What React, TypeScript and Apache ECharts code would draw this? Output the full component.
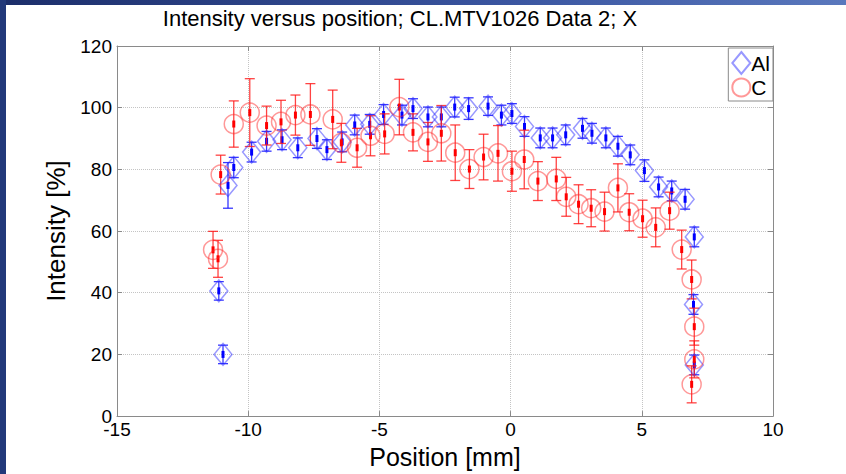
import React, { useEffect, useRef } from "react";
import * as echarts from "echarts";

const chartTitle = "Intensity versus position; CL.MTV1026 Data 2; X";
const xName = "Position [mm]";
const yName = "Intensity [%]";
const xTicks = [-15, -10, -5, 0, 5, 10];
const yTicks = [0, 20, 40, 60, 80, 100, 120];

const alX = [-11.12, -10.96, -10.77, -10.55, -9.87, -9.3, -8.71, -8.11, -7.38, -7.0, -6.42, -5.94, -5.37, -4.84, -4.14, -3.72, -3.15, -2.64, -2.13, -1.6, -0.86, -0.35, 0.05, 0.53, 1.13, 1.6, 2.1, 2.74, 3.1, 3.63, 4.09, 4.56, 5.1, 5.64, 6.14, 6.65, 7.0, 6.97, 7.0];
const alY = [40.6, 20.0, 74.8, 80.6, 85.6, 89.1, 89.6, 87.0, 90.0, 86.4, 88.9, 94.4, 94.6, 97.8, 97.6, 99.7, 97.0, 97.0, 100.2, 99.7, 100.5, 97.6, 98.1, 93.9, 90.2, 90.2, 91.2, 93.3, 91.7, 90.2, 87.5, 84.7, 79.6, 74.3, 73.0, 70.3, 58.1, 36.2, 16.6];
const alErr = [3, 3, 7.4, 3.3, 3.2, 3.2, 3.2, 3.2, 3.2, 3.2, 3.2, 3.2, 3.2, 3.2, 3.2, 3.2, 3.2, 3.2, 3.2, 3.5, 3.0, 3.2, 3.2, 3.2, 3.2, 3.2, 3.2, 3.2, 3.2, 3.2, 3.2, 3.2, 3.5, 3.2, 3.2, 3.2, 3.2, 3.2, 3.2];

const cX = [-11.34, -11.15, -11.05, -10.55, -9.94, -9.3, -8.75, -8.2, -7.63, -6.78, -6.45, -5.85, -5.34, -4.8, -4.24, -3.72, -3.15, -2.64, -2.11, -1.57, -1.03, -0.48, 0.05, 0.52, 1.04, 1.74, 2.12, 2.59, 3.07, 3.58, 4.09, 4.52, 5.03, 5.53, 6.06, 6.52, 6.9, 7.0, 7.0, 6.9];
const cY = [53.9, 51.0, 78.3, 94.7, 98.4, 94.2, 95.4, 97.6, 97.8, 96.2, 88.6, 87.0, 90.9, 91.5, 100.2, 92.0, 88.9, 91.7, 85.4, 80.1, 84.0, 85.2, 79.4, 83.2, 76.2, 76.9, 71.1, 68.7, 67.4, 66.3, 74.0, 66.1, 64.0, 61.2, 66.6, 54.0, 44.3, 29.0, 18.4, 10.3];
const cErr = [6, 6, 6.3, 7.5, 11, 6.3, 7, 6.5, 10, 9.5, 6.3, 6.3, 6.5, 6.5, 9, 6, 6.3, 9, 9, 6.3, 7.4, 9, 6.5, 9.5, 6.3, 7, 6.3, 6.3, 6, 6.3, 7.8, 6, 6, 6.3, 6, 6.3, 6.3, 6, 6, 6];

const FONT = "'Liberation Sans', Arial, sans-serif";

function errSeries(name: string, xs: number[], ys: number[], es: number[], color: string, solid: string) {
  return {
    type: "custom",
    name,
    silent: true,
    z: 2,
    data: xs.map((x, i) => [x, ys[i], es[i]]),
    encode: { x: 0, y: 1 },
    renderItem: (params: any, api: any) => {
      const x = api.value(0);
      const y = api.value(1);
      const e = api.value(2);
      const top = api.coord([x, y + e]);
      const bot = api.coord([x, y - e]);
      const c = api.coord([x, y]);
      const hw = 5;
      const st = { stroke: color, lineWidth: 1.3 };
      return {
        type: "group",
        children: [
          { type: "line", shape: { x1: top[0], y1: top[1], x2: bot[0], y2: bot[1] }, style: st },
          { type: "line", shape: { x1: top[0] - hw, y1: top[1], x2: top[0] + hw, y2: top[1] }, style: st },
          { type: "line", shape: { x1: bot[0] - hw, y1: bot[1], x2: bot[0] + hw, y2: bot[1] }, style: st },
          { type: "rect", shape: { x: c[0] - 1.5, y: c[1] - 3.5, width: 3, height: 7 }, style: { fill: solid } },
        ],
      };
    },
  };
}

function axisCommon() {
  return {
    axisLine: { show: true, onZero: false, lineStyle: { color: "#8a8a8a", width: 1 } },
    axisTick: { show: true, inside: true, length: 5, lineStyle: { color: "#8a8a8a" } },
  };
}

export default function App() {
  const ref = useRef<HTMLDivElement>(null);
  useEffect(() => {
    if (!ref.current) return;
    const chart = echarts.init(ref.current, undefined, { renderer: "svg" });
    const gridLine = { show: true, lineStyle: { type: "dotted", color: "#c4c4c4", width: 1 } };
    chart.setOption({
      animation: false,
      backgroundColor: "#ffffff",
      grid: { left: 117, right: 73, top: 46, bottom: 50 },
      graphic: [
        {
          type: "text",
          x: 400,
          y: 7,
          style: { text: chartTitle, font: `22px ${FONT}`, fill: "#000", textAlign: "center", textVerticalAlign: "top" },
        },
      ],
      legend: {
        orient: "vertical",
        right: 73,
        top: 48,
        data: ["Al", "C"],
        itemWidth: 18,
        itemHeight: 22,
        itemGap: 2,
        padding: [3, 3, 3, 3],
        borderColor: "#8a8a8a",
        borderWidth: 1,
        backgroundColor: "#fff",
        textStyle: { fontSize: 21, fontFamily: FONT, color: "#000", padding: [0, 0, 0, -4] },
        selectedMode: false,
      },
      xAxis: [
        {
          type: "value",
          position: "bottom",
          min: xTicks[0],
          max: xTicks[xTicks.length - 1],
          interval: 5,
          ...axisCommon(),
          axisLabel: { fontSize: 19, fontFamily: FONT, color: "#000", margin: 4 },
          splitLine: gridLine,
          name: xName,
          nameLocation: "middle",
          nameGap: 23,
          nameTextStyle: { fontSize: 25, fontFamily: FONT, color: "#000" },
        },
        {
          type: "value",
          position: "top",
          min: xTicks[0],
          max: xTicks[xTicks.length - 1],
          interval: 5,
          ...axisCommon(),
          axisLabel: { show: false },
          splitLine: { show: false },
        },
      ],
      yAxis: [
        {
          type: "value",
          position: "left",
          min: yTicks[0],
          max: yTicks[yTicks.length - 1],
          interval: 20,
          ...axisCommon(),
          axisLabel: { fontSize: 19, fontFamily: FONT, color: "#000", margin: 5 },
          splitLine: gridLine,
          name: yName,
          nameLocation: "middle",
          nameGap: 40,
          nameRotate: 90,
          nameTextStyle: { fontSize: 26, fontFamily: FONT, color: "#000" },
        },
        {
          type: "value",
          position: "right",
          min: yTicks[0],
          max: yTicks[yTicks.length - 1],
          interval: 20,
          ...axisCommon(),
          axisLabel: { show: false },
          splitLine: { show: false },
        },
      ],
      series: [
        errSeries("Al error", alX, alY, alErr, "rgba(20,20,255,0.85)", "#0000ff"),
        {
          type: "scatter",
          name: "Al",
          z: 3,
          symbol: "diamond",
          symbolSize: [18, 22],
          data: alX.map((x, i) => [x, alY[i]]),
          itemStyle: { color: "rgba(0,0,0,0)", borderColor: "rgba(40,40,255,0.6)", borderWidth: 1.5 },
        },
        errSeries("C error", cX, cY, cErr, "rgba(255,20,20,0.8)", "#ff0000"),
        {
          type: "scatter",
          name: "C",
          z: 3,
          symbol: "circle",
          symbolSize: 19,
          data: cX.map((x, i) => [x, cY[i]]),
          itemStyle: { color: "rgba(0,0,0,0)", borderColor: "rgba(255,40,40,0.6)", borderWidth: 1.5 },
        },
      ],
    });
    return () => chart.dispose();
  }, []);

  return (
    <div style={{ position: "absolute", left: 0, top: 0, width: 846, height: 474, background: "#fff", overflow: "hidden" }}>
      <div ref={ref} style={{ position: "absolute", left: 0, top: 0, width: 846, height: 474 }} />
      <div style={{ position: "absolute", left: 0, top: 0, width: 846, height: 5, background: "linear-gradient(to right, #1c2e6a, #3a55a0 60%, #5a78bd)" }} />
      <div style={{ position: "absolute", left: 0, top: 0, width: 6, height: 474, background: "#22397a" }} />
    </div>
  );
}
